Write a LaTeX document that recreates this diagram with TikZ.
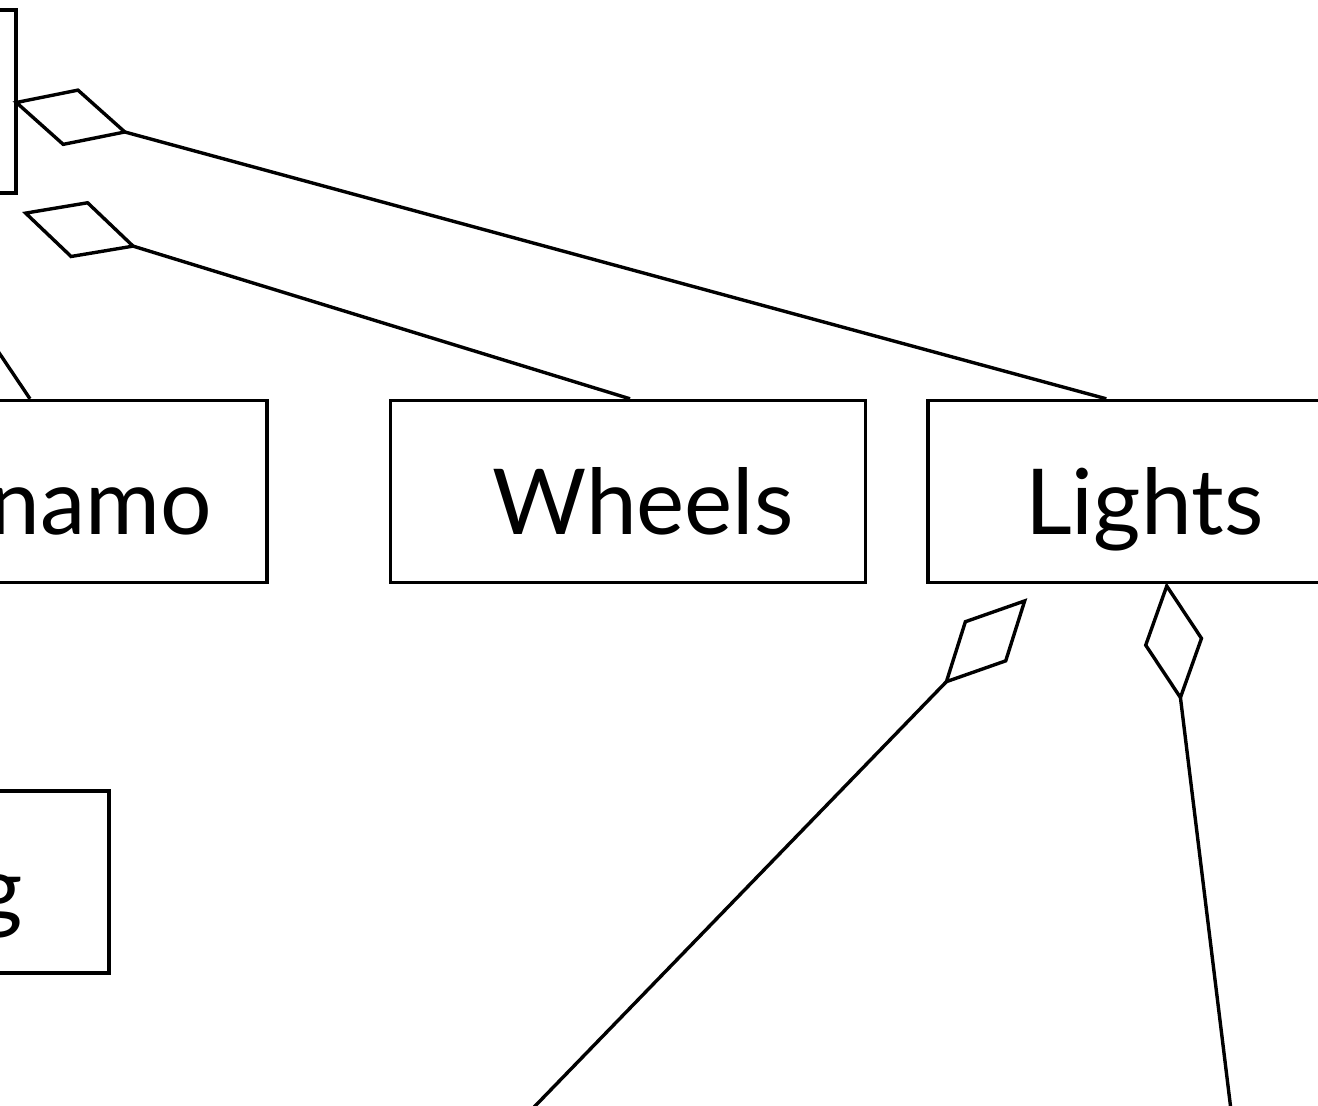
\documentclass[tikz,border=0pt]{standalone}
\usepackage{fontspec}
\setmainfont{Lato}
\usetikzlibrary{arrows.meta}
\begin{document}
\begin{tikzpicture}[x=1pt,y=-1pt,
  box/.style={draw, line width=3.4pt, rectangle, inner sep=0pt, minimum height=182pt},
  lbl/.style={inner sep=0pt, font=\fontsize{91}{100}\selectfont},
  conn/.style={line width=3.4pt},
  agg/.style={-{Diamond[open,length=120pt,width=60pt]}}]
\useasboundingbox (0,0) rectangle (1318,1106);
\clip (0,0) rectangle (1318,1106);
% boxes
\node[box, minimum width=416pt, minimum height=183pt] (bike) at (-192,101.5) {};
\node[box, minimum width=467pt] (dynamo) at (33.5,491.5) {};
\node[box, minimum width=475pt] (wheels) at (628,491.5) {};
\node[box, minimum width=420pt] (lights) at (1138,491.5) {};
\node[box, minimum width=409pt] (gbox) at (-95.5,882) {};
% labels
\node[lbl, anchor=base east] (dynamoT) at (212,534) {Dynamo};
\node[lbl, anchor=base west] (wheelsT) at (492,534) {Wheels};
\node[lbl, anchor=base west] (lightsT) at (1025,534) {Lights};
\node[lbl, anchor=base east] (gT) at (23,921) {g};
% free ends
\coordinate (w2) at (22,212);
\coordinate (dyn) at (-60,265);
\coordinate (l3) at (444,1200);
\coordinate (l4) at (1242,1200);
% connectors
\draw[conn,agg] ([xshift=180pt]lights.north west) -- ([xshift=-5pt]bike.east);
\draw[conn,agg] ([xshift=2pt]wheels.north) -- (w2);
\draw[conn] ([xshift=-3.5pt]dynamo.north) -- (dyn);
\draw[conn,agg] (l3) -- ([xshift=101pt,yshift=-14pt]lights.south west);
\draw[conn,agg] (l4) -- ([xshift=240pt,yshift=2pt]lights.south west);
\end{tikzpicture}
\end{document}
